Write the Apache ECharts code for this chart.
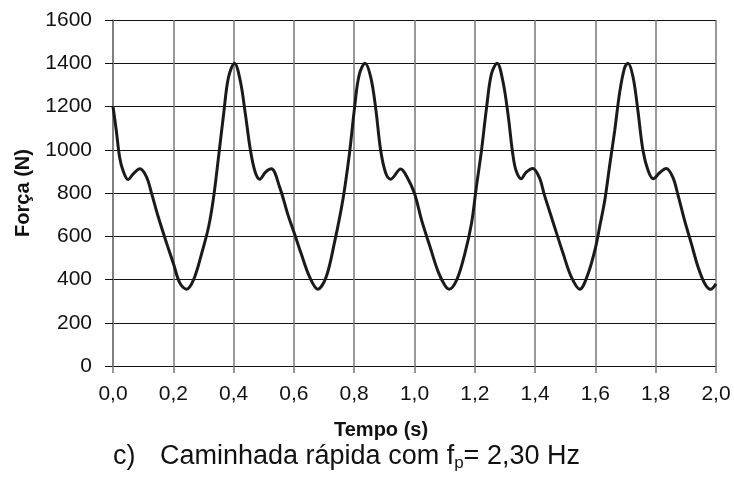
<!DOCTYPE html>
<html>
<head>
<meta charset="utf-8">
<script src="https://cdn.jsdelivr.net/npm/echarts@6/dist/echarts.min.js"></script>
<style>html,body{margin:0;padding:0;background:#fff}#c{width:734px;height:483px}</style>
</head>
<body>
<div id="c"></div>
<script>
var times = [0.000,0.011,0.022,0.033,0.050,0.067,0.089,0.111,0.128,0.150,0.178,0.200,0.222,0.244,0.267,0.294,0.317,0.333,0.350,0.367,0.383,0.403,0.422,0.439,0.456,0.472,0.487,0.506,0.525,0.553,0.580,0.600,0.624,0.652,0.679,0.707,0.734,0.762,0.784,0.800,0.816,0.836,0.855,0.871,0.888,0.905,0.921,0.954,0.976,1.000,1.024,1.052,1.079,1.101,1.115,1.140,1.167,1.189,1.205,1.222,1.239,1.255,1.274,1.293,1.310,1.326,1.337,1.354,1.370,1.392,1.414,1.431,1.458,1.493,1.520,1.548,1.576,1.600,1.614,1.631,1.648,1.664,1.681,1.697,1.708,1.725,1.741,1.758,1.775,1.792,1.814,1.835,1.857,1.874,1.896,1.918,1.940,1.962,1.982,2.000];
var forces = [1200,1088,965,905,862,888,912,875,798,690,567,475,383,355,398,520,643,774,966,1166,1335,1400,1320,1166,997,895,864,897,912,826,700,620,520,412,355,412,567,765,980,1180,1343,1400,1335,1195,995,890,864,911,872,798,672,549,434,372,355,398,520,659,826,995,1195,1350,1400,1318,1166,980,903,866,895,913,872,790,672,520,412,355,428,545,643,765,934,1088,1270,1380,1400,1335,1180,995,903,866,895,913,872,790,672,567,460,383,355,380];
var xTicks = [0,0.2,0.4,0.6,0.8,1.0,1.2,1.4,1.6,1.8,2.0];
var yTicks = [0,200,400,600,800,1000,1200,1400,1600];
var xTitle = 'Tempo (s)';
var yTitle = 'Força (N)';

var data = times.map(function(t,i){return [t, forces[i]];});
var chart = echarts.init(document.getElementById('c'));
var FONT = '"Liberation Sans", Arial, sans-serif';
chart.setOption({
  animation:false,
  backgroundColor:'#fff',
  grid:{left:113,right:18,top:20,bottom:117,containLabel:false},
  xAxis:{
    type:'value', min:xTicks[0], max:xTicks[xTicks.length-1], interval:0.2,
    axisLine:{show:true,lineStyle:{color:'#111',width:1}},
    axisTick:{show:true,length:7,lineStyle:{color:'#777',width:1.5}},
    axisLabel:{margin:18,fontFamily:FONT,fontSize:21,color:'#111',
      formatter:function(v){return v.toFixed(1).replace('.',',');}},
    splitLine:{show:true,lineStyle:{color:'#777',width:1.5}}
  },
  yAxis:{
    type:'value', min:yTicks[0], max:yTicks[yTicks.length-1], interval:200,
    name:yTitle, nameLocation:'middle', nameGap:80,
    nameTextStyle:{fontFamily:FONT,fontSize:20,fontWeight:'bold',color:'#111'},
    axisLine:{show:true,lineStyle:{color:'#777',width:1.5}},
    axisTick:{show:true,length:8,lineStyle:{color:'#111',width:1}},
    axisLabel:{margin:21,fontFamily:FONT,fontSize:21,color:'#111',
      formatter:function(v){return String(v);}},
    splitLine:{show:true,lineStyle:{color:'#111',width:1}}
  },
  graphic:[
    {type:'text',left:334,top:420,style:{text:xTitle,font:'bold 20px '+FONT,fill:'#111'}},
    {type:'text',left:113,top:443,style:{text:'c)',font:'27px '+FONT,fill:'#111'}},
    {type:'text',left:160,top:443,style:{
      text:'Caminhada rápida com f{s|p}= 2,30 Hz',
      font:'27px '+FONT,fill:'#111',
      rich:{s:{fontSize:17,fontFamily:FONT,fill:'#111',padding:[13,0,0,0]}}}}
  ],
  series:[{
    type:'line', data:data, smooth:0.35, showSymbol:false,
    lineStyle:{color:'#1a1a1a',width:3}
  }]
});
</script>
</body>
</html>
